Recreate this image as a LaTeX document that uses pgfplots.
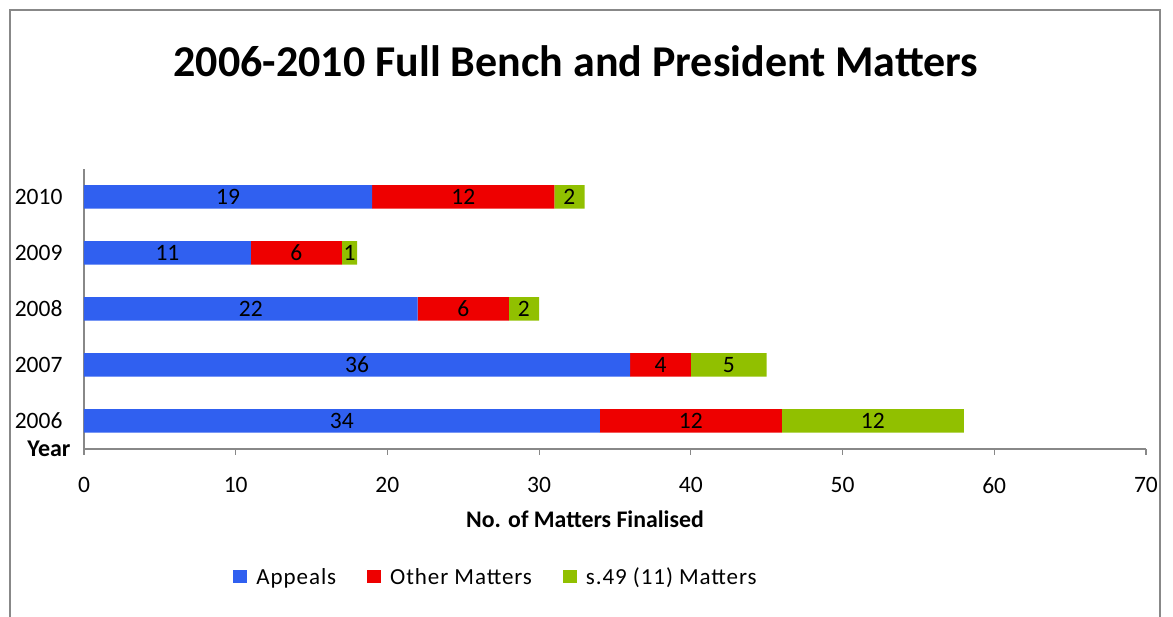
\documentclass[border=0pt]{standalone}
\usepackage{pgfplots}
\pgfplotsset{compat=1.18}
\usepackage{pgfplotstable}
\usepackage{fontspec}
\setmainfont{Carlito}
\newfontfamily\legfont[LetterSpace=4]{Carlito}
\definecolor{bluefill}{RGB}{48,96,240}
\definecolor{redfill}{RGB}{238,0,0}
\definecolor{greenfill}{RGB}{145,192,0}
\definecolor{framegray}{RGB}{136,136,136}
\pgfplotstableread{
y appeals other sfortynine
0 34 12 12
1 36 4 5
2 22 6 2
3 11 6 1
4 19 12 2
}\data
\begin{document}
\begin{tikzpicture}
\path[use as bounding box] (0pt,0pt) rectangle (1173pt,617pt);
\draw[framegray, line width=1.4pt] (10pt,0pt) -- (10pt,607pt) -- (1160pt,607pt) -- (1160pt,0pt);
\node[anchor=base, font=\bfseries\fontsize{44}{50}\selectfont] at (576pt,540pt) {2006-2010 Full Bench and President Matters};
\node[anchor=center, font=\bfseries\fontsize{23.8}{27}\selectfont] at (585pt,98pt) {No. of Matters Finalised};
\node[anchor=east, font=\bfseries\fontsize{24}{27}\selectfont] at (74pt,168pt) {Year};
\begin{axis}[
  at={(84pt,168pt)}, anchor=south west,
  scale only axis, width=1062pt, height=280pt,
  xbar stacked, bar width=23.5pt,
  xmin=0, xmax=70, ymin=-0.5, ymax=4.5,
  axis x line*=bottom, axis y line*=left,
  axis line style={framegray, line width=1.2pt},
  xtick={0,10,...,70},
  ytick={0,1,2,3,4},
  yticklabels={2006,2007,2008,2009,2010},
  tick align=outside,
  major tick length=6pt,
  xtick style={framegray, line width=1.2pt},
  ytick style={draw=none},
  /pgf/number format/assume math mode=true,
  tick label style={font=\fontsize{23.5}{26}\selectfont},
  xticklabel style={yshift=-19pt},
  yticklabel style={xshift=-12pt},
  point meta=explicit,
  nodes near coords,
  nodes near coords style={font=\fontsize{23.5}{26}\selectfont, text=black, anchor=center},
  legend columns=3,
  legend style={draw=none, at={(0.388,-0.457)}, anchor=center, font=\legfont\fontsize{23}{26}\selectfont,
    /tikz/every odd column/.append style={column sep=7pt},
    /tikz/every even column/.append style={column sep=29pt}},
  legend image code/.code={\path[#1, draw=none] (0pt,-6.5pt) rectangle (14pt,7pt);},
]
\addplot[draw=none, fill=bluefill]
  table[x=appeals, y=y, meta=appeals] {\data};
\addlegendentry{Appeals}
\addplot[draw=none, fill=redfill]
  table[x=other, y=y, meta=other] {\data};
\addlegendentry{Other Matters}
\addplot[draw=none, fill=greenfill]
  table[x=sfortynine, y=y, meta=sfortynine] {\data};
\addlegendentry{s.49 (11) Matters}
\end{axis}
\end{tikzpicture}
\end{document}
